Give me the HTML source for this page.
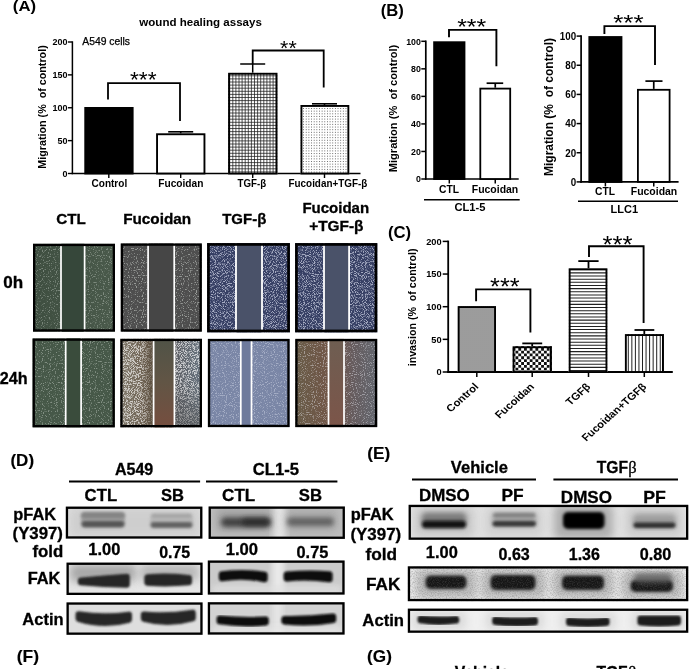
<!DOCTYPE html>
<html lang="en"><head><meta charset="utf-8"><title>Figure</title>
<style>html,body{margin:0;padding:0;background:#fff;}svg{display:block;}text{font-family:'Liberation Sans', Arial, Helvetica, sans-serif;white-space:pre;}#panelD text,#panelE text,#photos text{stroke:#000;stroke-width:0.3px;}text.pl{stroke-width:0.15px !important;}</style>
</head><body>
<svg width="694" height="669" viewBox="0 0 694 669">
<defs>
<filter id="speck" x="0" y="0" width="100%" height="100%"><feTurbulence type="fractalNoise" baseFrequency="0.85" numOctaves="1" seed="3" result="n"/><feColorMatrix in="n" type="matrix" values="0 0 0 0 0.85  0 0 0 0 0.9  0 0 0 0 0.85  7 0 0 0 -3.9"/><feGaussianBlur stdDeviation="0.35"/></filter>
<filter id="speck2" x="0" y="0" width="100%" height="100%"><feTurbulence type="fractalNoise" baseFrequency="0.9" numOctaves="1" seed="11" result="n"/><feColorMatrix in="n" type="matrix" values="0 0 0 0 0.9  0 0 0 0 0.92  0 0 0 0 1  7 0 0 0 -3.8"/><feGaussianBlur stdDeviation="0.35"/></filter>
<filter id="speck4" x="0" y="0" width="100%" height="100%"><feTurbulence type="fractalNoise" baseFrequency="1.1" numOctaves="1" seed="21" result="n"/><feColorMatrix in="n" type="matrix" values="0 0 0 0 0.85  0 0 0 0 0.88  0 0 0 0 1  6 0 0 0 -2.9"/><feGaussianBlur stdDeviation="0.3"/></filter>
<filter id="speck3" x="0" y="0" width="100%" height="100%"><feTurbulence type="fractalNoise" baseFrequency="1.3" numOctaves="1" seed="5" result="n"/><feColorMatrix in="n" type="matrix" values="0 0 0 0 1  0 0 0 0 1  0 0 0 0 1  6 0 0 0 -2.7"/><feGaussianBlur stdDeviation="0.3"/></filter>
<filter id="b05" x="-30%" y="-80%" width="160%" height="260%"><feGaussianBlur stdDeviation="0.8"/></filter>
<filter id="b1" x="-30%" y="-80%" width="160%" height="260%"><feGaussianBlur stdDeviation="1.2"/></filter>
<filter id="b15" x="-30%" y="-80%" width="160%" height="260%"><feGaussianBlur stdDeviation="1.7"/></filter>
<filter id="b2" x="-30%" y="-80%" width="160%" height="260%"><feGaussianBlur stdDeviation="2.5"/></filter>
<filter id="b3" x="-30%" y="-80%" width="160%" height="260%"><feGaussianBlur stdDeviation="4"/></filter>
<filter id="grain" x="0" y="0" width="100%" height="100%"><feTurbulence type="fractalNoise" baseFrequency="0.8" numOctaves="2" seed="7" result="n"/><feColorMatrix in="n" type="matrix" values="0 0 0 0 0.15  0 0 0 0 0.15  0 0 0 0 0.15  3 0 0 0 -1.25"/></filter>
</defs>
<rect width="694" height="669" fill="#fff"/>
<g id="panelA">
<text x="12.86" y="11.1" font-size="14.5" font-weight="bold" textLength="23.29" lengthAdjust="spacingAndGlyphs">(A)</text>
<text x="139.33" y="25.5" font-size="11.7" font-weight="bold" textLength="122.56" lengthAdjust="spacingAndGlyphs">wound healing assays</text>
<text x="82.27" y="44.8" font-size="10" textLength="47.78" lengthAdjust="spacingAndGlyphs" stroke="#000" stroke-width="0.25">A549 cells</text>
<line x1="72.4" y1="41.3" x2="72.4" y2="174.2" stroke="#000" stroke-width="1.5"/>
<line x1="71.7" y1="173.5" x2="360.5" y2="173.5" stroke="#000" stroke-width="1.5"/>
<line x1="67.9" y1="173.5" x2="72.4" y2="173.5" stroke="#000" stroke-width="1.4"/>
<text x="67.60000000000001" y="176.8" font-size="9.2" font-weight="bold" text-anchor="end" textLength="5.0" lengthAdjust="spacingAndGlyphs" fill="#000">0</text>
<line x1="67.9" y1="140.625" x2="72.4" y2="140.625" stroke="#000" stroke-width="1.4"/>
<text x="67.60000000000001" y="143.925" font-size="9.2" font-weight="bold" text-anchor="end" textLength="10.0" lengthAdjust="spacingAndGlyphs" fill="#000">50</text>
<line x1="67.9" y1="107.75" x2="72.4" y2="107.75" stroke="#000" stroke-width="1.4"/>
<text x="67.60000000000001" y="111.05" font-size="9.2" font-weight="bold" text-anchor="end" textLength="15.0" lengthAdjust="spacingAndGlyphs" fill="#000">100</text>
<line x1="67.9" y1="74.875" x2="72.4" y2="74.875" stroke="#000" stroke-width="1.4"/>
<text x="67.60000000000001" y="78.175" font-size="9.2" font-weight="bold" text-anchor="end" textLength="15.0" lengthAdjust="spacingAndGlyphs" fill="#000">150</text>
<line x1="67.9" y1="42.0" x2="72.4" y2="42.0" stroke="#000" stroke-width="1.4"/>
<text x="67.60000000000001" y="45.3" font-size="9.2" font-weight="bold" text-anchor="end" textLength="15.0" lengthAdjust="spacingAndGlyphs" fill="#000">200</text>
<text transform="translate(46.2,107) rotate(-90)" font-size="10" font-weight="bold" text-anchor="middle" textLength="123.5" lengthAdjust="spacingAndGlyphs">Migration (%  of control)</text>
<rect x="85.25" y="107.95" width="47.40" height="65.55" fill="#000" stroke="#000" stroke-width="1.9"/>
<rect x="157.05" y="134.25" width="47.40" height="39.25" fill="#fff" stroke="#000" stroke-width="1.9"/>
<rect x="228.10" y="72.80" width="49.40" height="100.70" fill="#fff"/>
<clipPath id="pb2281"><rect x="228.1" y="72.8" width="49.40" height="100.70"/></clipPath>
<g clip-path="url(#pb2281)">
<path d="M228.10 171.90H277.50M228.10 168.80H277.50M228.10 165.70H277.50M228.10 162.60H277.50M228.10 159.50H277.50M228.10 156.40H277.50M228.10 153.30H277.50M228.10 150.20H277.50M228.10 147.10H277.50M228.10 144.00H277.50M228.10 140.90H277.50M228.10 137.80H277.50M228.10 134.70H277.50M228.10 131.60H277.50M228.10 128.50H277.50M228.10 125.40H277.50M228.10 122.30H277.50M228.10 119.20H277.50M228.10 116.10H277.50M228.10 113.00H277.50M228.10 109.90H277.50M228.10 106.80H277.50M228.10 103.70H277.50M228.10 100.60H277.50M228.10 97.50H277.50M228.10 94.40H277.50M228.10 91.30H277.50M228.10 88.20H277.50M228.10 85.10H277.50M228.10 82.00H277.50M228.10 78.90H277.50M228.10 75.80H277.50M229.70 72.80V173.50M232.80 72.80V173.50M235.90 72.80V173.50M239.00 72.80V173.50M242.10 72.80V173.50M245.20 72.80V173.50M248.30 72.80V173.50M251.40 72.80V173.50M254.50 72.80V173.50M257.60 72.80V173.50M260.70 72.80V173.50M263.80 72.80V173.50M266.90 72.80V173.50M270.00 72.80V173.50M273.10 72.80V173.50M276.20 72.80V173.50" stroke="#1c1c1c" stroke-width="0.75" fill="none"/>
</g>
<rect x="229.05" y="73.75" width="47.50" height="99.75" fill="none" stroke="#000" stroke-width="1.9"/>
<rect x="300.50" y="105.00" width="48.80" height="68.50" fill="#fff"/>
<clipPath id="pb3005"><rect x="300.5" y="105" width="48.80" height="68.50"/></clipPath>
<g clip-path="url(#pb3005)">
<path d="M300.50 172.10H349.30M300.50 169.45H349.30M300.50 166.80H349.30M300.50 164.15H349.30M300.50 161.50H349.30M300.50 158.85H349.30M300.50 156.20H349.30M300.50 153.55H349.30M300.50 150.90H349.30M300.50 148.25H349.30M300.50 145.60H349.30M300.50 142.95H349.30M300.50 140.30H349.30M300.50 137.65H349.30M300.50 135.00H349.30M300.50 132.35H349.30M300.50 129.70H349.30M300.50 127.05H349.30M300.50 124.40H349.30M300.50 121.75H349.30M300.50 119.10H349.30M300.50 116.45H349.30M300.50 113.80H349.30M300.50 111.15H349.30M300.50 108.50H349.30M300.50 105.85H349.30" stroke="#3c3c3c" stroke-width="0.85" stroke-dasharray="0.85 1.80" fill="none"/>
</g>
<rect x="301.45" y="105.95" width="46.90" height="67.55" fill="none" stroke="#000" stroke-width="1.9"/>
<line x1="180.7" y1="133.3" x2="180.7" y2="131.8" stroke="#000" stroke-width="1.6"/>
<line x1="168.2" y1="131.8" x2="193.2" y2="131.8" stroke="#000" stroke-width="1.6"/>
<line x1="252.7" y1="72.7" x2="252.7" y2="64" stroke="#000" stroke-width="1.5"/>
<line x1="240.2" y1="64" x2="265.2" y2="64" stroke="#000" stroke-width="1.5"/>
<line x1="324.5" y1="105.3" x2="324.5" y2="103.8" stroke="#000" stroke-width="1.6"/>
<line x1="312.0" y1="103.8" x2="337.0" y2="103.8" stroke="#000" stroke-width="1.6"/>
<line x1="108.8" y1="173.5" x2="108.8" y2="178.0" stroke="#000" stroke-width="1.4"/>
<line x1="180.7" y1="173.5" x2="180.7" y2="178.0" stroke="#000" stroke-width="1.4"/>
<line x1="252.7" y1="173.5" x2="252.7" y2="178.0" stroke="#000" stroke-width="1.4"/>
<line x1="324.5" y1="173.5" x2="324.5" y2="178.0" stroke="#000" stroke-width="1.4"/>
<polyline points="108,99.5 108,83.2 180,83.2 180,121" fill="none" stroke="#000" stroke-width="1.8"/>
<polyline points="252.7,64 252.7,50.5 323.7,50.5 323.7,87.5" fill="none" stroke="#000" stroke-width="1.8"/>
<text x="129.95" y="87.4" font-size="21.4" textLength="26.70" lengthAdjust="spacingAndGlyphs">***</text>
<text x="280.08" y="54.7" font-size="21" textLength="16.61" lengthAdjust="spacingAndGlyphs">**</text>
<text x="91.50" y="187" font-size="10.5" font-weight="bold" textLength="35.70" lengthAdjust="spacingAndGlyphs">Control</text>
<text x="158.21" y="187" font-size="10.5" font-weight="bold" textLength="45.22" lengthAdjust="spacingAndGlyphs">Fucoidan</text>
<text x="237.58" y="187" font-size="10.5" font-weight="bold" textLength="28.54" lengthAdjust="spacingAndGlyphs">TGF-β</text>
<text x="288.53" y="187" font-size="10.5" font-weight="bold" textLength="78.80" lengthAdjust="spacingAndGlyphs">Fucoidan+TGF-β</text>
</g>
<g id="panelB">
<text x="380.67" y="16.4" font-size="16.5" font-weight="bold" textLength="23.18" lengthAdjust="spacingAndGlyphs">(B)</text>
<line x1="425.8" y1="40.5" x2="425.8" y2="179.8" stroke="#000" stroke-width="1.7"/>
<line x1="425.0" y1="179" x2="518.7" y2="179" stroke="#000" stroke-width="1.7"/>
<line x1="421.3" y1="179.0" x2="425.8" y2="179.0" stroke="#000" stroke-width="1.5"/>
<text x="420.90000000000003" y="182.456" font-size="9.6" font-weight="bold" text-anchor="end" textLength="4.9" lengthAdjust="spacingAndGlyphs" fill="#000">0</text>
<line x1="421.3" y1="151.46" x2="425.8" y2="151.46" stroke="#000" stroke-width="1.5"/>
<text x="420.90000000000003" y="154.916" font-size="9.6" font-weight="bold" text-anchor="end" textLength="9.8" lengthAdjust="spacingAndGlyphs" fill="#000">20</text>
<line x1="421.3" y1="123.92" x2="425.8" y2="123.92" stroke="#000" stroke-width="1.5"/>
<text x="420.90000000000003" y="127.376" font-size="9.6" font-weight="bold" text-anchor="end" textLength="9.8" lengthAdjust="spacingAndGlyphs" fill="#000">40</text>
<line x1="421.3" y1="96.38" x2="425.8" y2="96.38" stroke="#000" stroke-width="1.5"/>
<text x="420.90000000000003" y="99.836" font-size="9.6" font-weight="bold" text-anchor="end" textLength="9.8" lengthAdjust="spacingAndGlyphs" fill="#000">60</text>
<line x1="421.3" y1="68.84" x2="425.8" y2="68.84" stroke="#000" stroke-width="1.5"/>
<text x="420.90000000000003" y="72.296" font-size="9.6" font-weight="bold" text-anchor="end" textLength="9.8" lengthAdjust="spacingAndGlyphs" fill="#000">80</text>
<line x1="421.3" y1="41.30000000000001" x2="425.8" y2="41.30000000000001" stroke="#000" stroke-width="1.5"/>
<text x="420.90000000000003" y="44.756000000000014" font-size="9.6" font-weight="bold" text-anchor="end" textLength="14.700000000000001" lengthAdjust="spacingAndGlyphs" fill="#000">100</text>
<rect x="434.15" y="42.25" width="30.30" height="136.75" fill="#000" stroke="#000" stroke-width="1.9"/>
<rect x="480.30" y="88.60" width="29.90" height="90.40" fill="#fff" stroke="#000" stroke-width="1.8"/>
<line x1="495.25" y1="87.7" x2="495.25" y2="83.2" stroke="#000" stroke-width="1.7"/>
<line x1="486.6" y1="83.2" x2="503.2" y2="83.2" stroke="#000" stroke-width="1.7"/>
<line x1="449.29999999999995" y1="179" x2="449.29999999999995" y2="183.5" stroke="#000" stroke-width="1.5"/>
<line x1="495.25" y1="179" x2="495.25" y2="183.5" stroke="#000" stroke-width="1.5"/>
<polyline points="449,37.3 449,29.9 496.4,29.9 496.4,66.3" fill="none" stroke="#000" stroke-width="1.9"/>
<text x="457.16" y="33.9" font-size="21.5" textLength="29.07" lengthAdjust="spacingAndGlyphs">***</text>
<text x="449" y="192.5" font-size="10.3" font-weight="bold" text-anchor="middle" textLength="20" lengthAdjust="spacingAndGlyphs" fill="#000">CTL</text>
<text x="495" y="192.5" font-size="10.3" font-weight="bold" text-anchor="middle" textLength="46.5" lengthAdjust="spacingAndGlyphs" fill="#000">Fucoidan</text>
<line x1="424" y1="199.7" x2="519.7" y2="199.7" stroke="#000" stroke-width="1.6"/>
<text x="470" y="211" font-size="10.8" font-weight="bold" text-anchor="middle" textLength="31" lengthAdjust="spacingAndGlyphs" fill="#000">CL1-5</text>
<text transform="translate(397.2,108.5) rotate(-90)" font-size="11.5" font-weight="bold" text-anchor="middle" textLength="127.5" lengthAdjust="spacingAndGlyphs">Migration (%  of control)</text>
<line x1="581.1" y1="35.300000000000004" x2="581.1" y2="182.70000000000002" stroke="#000" stroke-width="1.7"/>
<line x1="580.3000000000001" y1="181.9" x2="678.6" y2="181.9" stroke="#000" stroke-width="1.7"/>
<line x1="576.6" y1="181.9" x2="581.1" y2="181.9" stroke="#000" stroke-width="1.5"/>
<text x="576.2" y="185.68" font-size="10.5" font-weight="bold" text-anchor="end" textLength="5.45" lengthAdjust="spacingAndGlyphs" fill="#000">0</text>
<line x1="576.6" y1="152.74" x2="581.1" y2="152.74" stroke="#000" stroke-width="1.5"/>
<text x="576.2" y="156.52" font-size="10.5" font-weight="bold" text-anchor="end" textLength="10.9" lengthAdjust="spacingAndGlyphs" fill="#000">20</text>
<line x1="576.6" y1="123.58000000000001" x2="581.1" y2="123.58000000000001" stroke="#000" stroke-width="1.5"/>
<text x="576.2" y="127.36000000000001" font-size="10.5" font-weight="bold" text-anchor="end" textLength="10.9" lengthAdjust="spacingAndGlyphs" fill="#000">40</text>
<line x1="576.6" y1="94.42" x2="581.1" y2="94.42" stroke="#000" stroke-width="1.5"/>
<text x="576.2" y="98.2" font-size="10.5" font-weight="bold" text-anchor="end" textLength="10.9" lengthAdjust="spacingAndGlyphs" fill="#000">60</text>
<line x1="576.6" y1="65.26" x2="581.1" y2="65.26" stroke="#000" stroke-width="1.5"/>
<text x="576.2" y="69.04" font-size="10.5" font-weight="bold" text-anchor="end" textLength="10.9" lengthAdjust="spacingAndGlyphs" fill="#000">80</text>
<line x1="576.6" y1="36.099999999999994" x2="581.1" y2="36.099999999999994" stroke="#000" stroke-width="1.5"/>
<text x="576.2" y="39.879999999999995" font-size="10.5" font-weight="bold" text-anchor="end" textLength="16.35" lengthAdjust="spacingAndGlyphs" fill="#000">100</text>
<rect x="589.35" y="37.05" width="32.10" height="144.85" fill="#000" stroke="#000" stroke-width="1.9"/>
<rect x="637.90" y="89.80" width="31.70" height="92.10" fill="#fff" stroke="#000" stroke-width="1.8"/>
<line x1="653.75" y1="88.9" x2="653.75" y2="81.1" stroke="#000" stroke-width="1.7"/>
<line x1="645.4" y1="81.1" x2="662.5" y2="81.1" stroke="#000" stroke-width="1.7"/>
<line x1="605.4" y1="181.9" x2="605.4" y2="186.4" stroke="#000" stroke-width="1.5"/>
<line x1="653.75" y1="181.9" x2="653.75" y2="186.4" stroke="#000" stroke-width="1.5"/>
<polyline points="604.4,33.9 604.4,26.1 655,26.1 655,64.9" fill="none" stroke="#000" stroke-width="1.9"/>
<text x="613.19" y="30.4" font-size="22.5" textLength="30.41" lengthAdjust="spacingAndGlyphs">***</text>
<text x="605" y="195.2" font-size="10.3" font-weight="bold" text-anchor="middle" textLength="20" lengthAdjust="spacingAndGlyphs" fill="#000">CTL</text>
<text x="654" y="195.2" font-size="10.3" font-weight="bold" text-anchor="middle" textLength="46.5" lengthAdjust="spacingAndGlyphs" fill="#000">Fucoidan</text>
<line x1="578" y1="201.3" x2="678" y2="201.3" stroke="#000" stroke-width="1.6"/>
<text x="624.3" y="213.2" font-size="10.8" font-weight="bold" text-anchor="middle" textLength="27.5" lengthAdjust="spacingAndGlyphs" fill="#000">LLC1</text>
<text transform="translate(553.2,107) rotate(-90)" font-size="12.4" font-weight="bold" text-anchor="middle" textLength="138" lengthAdjust="spacingAndGlyphs">Migration (%  of control)</text>
</g>
<g id="panelC">
<text x="387.97" y="238.4" font-size="16.5" font-weight="bold" textLength="23.18" lengthAdjust="spacingAndGlyphs">(C)</text>
<line x1="448.2" y1="240.6" x2="448.2" y2="372.9" stroke="#000" stroke-width="1.8"/>
<line x1="447.3" y1="372" x2="672.8" y2="372" stroke="#000" stroke-width="1.8"/>
<line x1="442.7" y1="372.0" x2="448.2" y2="372.0" stroke="#000" stroke-width="1.5"/>
<text x="441.59999999999997" y="375.3" font-size="9.2" font-weight="bold" text-anchor="end" textLength="5.15" lengthAdjust="spacingAndGlyphs" fill="#000">0</text>
<line x1="442.7" y1="339.35" x2="448.2" y2="339.35" stroke="#000" stroke-width="1.5"/>
<text x="441.59999999999997" y="342.65000000000003" font-size="9.2" font-weight="bold" text-anchor="end" textLength="10.3" lengthAdjust="spacingAndGlyphs" fill="#000">50</text>
<line x1="442.7" y1="306.7" x2="448.2" y2="306.7" stroke="#000" stroke-width="1.5"/>
<text x="441.59999999999997" y="310.0" font-size="9.2" font-weight="bold" text-anchor="end" textLength="15.450000000000001" lengthAdjust="spacingAndGlyphs" fill="#000">100</text>
<line x1="442.7" y1="274.05" x2="448.2" y2="274.05" stroke="#000" stroke-width="1.5"/>
<text x="441.59999999999997" y="277.35" font-size="9.2" font-weight="bold" text-anchor="end" textLength="15.450000000000001" lengthAdjust="spacingAndGlyphs" fill="#000">150</text>
<line x1="442.7" y1="241.4" x2="448.2" y2="241.4" stroke="#000" stroke-width="1.5"/>
<text x="441.59999999999997" y="244.70000000000002" font-size="9.2" font-weight="bold" text-anchor="end" textLength="15.450000000000001" lengthAdjust="spacingAndGlyphs" fill="#000">200</text>
<text transform="translate(415.9,307.3) rotate(-90)" x="-59.00" y="0" font-size="10.6" font-weight="bold" textLength="117.79" lengthAdjust="spacingAndGlyphs">invasion (%  of control)</text>
<rect x="457.70" y="306.10" width="38.30" height="65.90" fill="#fff"/>
<clipPath id="pb4577"><rect x="457.7" y="306.1" width="38.30" height="65.90"/></clipPath>
<g clip-path="url(#pb4577)">
<path d="M457.70 372.00H496.00M457.70 370.00H496.00M457.70 368.00H496.00M457.70 366.00H496.00M457.70 364.00H496.00M457.70 362.00H496.00M457.70 360.00H496.00M457.70 358.00H496.00M457.70 356.00H496.00M457.70 354.00H496.00M457.70 352.00H496.00M457.70 350.00H496.00M457.70 348.00H496.00M457.70 346.00H496.00M457.70 344.00H496.00M457.70 342.00H496.00M457.70 340.00H496.00M457.70 338.00H496.00M457.70 336.00H496.00M457.70 334.00H496.00M457.70 332.00H496.00M457.70 330.00H496.00M457.70 328.00H496.00M457.70 326.00H496.00M457.70 324.00H496.00M457.70 322.00H496.00M457.70 320.00H496.00M457.70 318.00H496.00M457.70 316.00H496.00M457.70 314.00H496.00M457.70 312.00H496.00M457.70 310.00H496.00M457.70 308.00H496.00" stroke="#222" stroke-width="1.000" stroke-dasharray="1.000 1.000" fill="none"/>
<path d="M457.70 371.00H496.00M457.70 369.00H496.00M457.70 367.00H496.00M457.70 365.00H496.00M457.70 363.00H496.00M457.70 361.00H496.00M457.70 359.00H496.00M457.70 357.00H496.00M457.70 355.00H496.00M457.70 353.00H496.00M457.70 351.00H496.00M457.70 349.00H496.00M457.70 347.00H496.00M457.70 345.00H496.00M457.70 343.00H496.00M457.70 341.00H496.00M457.70 339.00H496.00M457.70 337.00H496.00M457.70 335.00H496.00M457.70 333.00H496.00M457.70 331.00H496.00M457.70 329.00H496.00M457.70 327.00H496.00M457.70 325.00H496.00M457.70 323.00H496.00M457.70 321.00H496.00M457.70 319.00H496.00M457.70 317.00H496.00M457.70 315.00H496.00M457.70 313.00H496.00M457.70 311.00H496.00M457.70 309.00H496.00M457.70 307.00H496.00" stroke="#222" stroke-width="1.000" stroke-dasharray="1.000 1.000" stroke-dashoffset="1.000" fill="none"/>
</g>
<rect x="458.65" y="307.05" width="36.40" height="64.95" fill="none" stroke="#000" stroke-width="1.9"/>
<rect x="512.60" y="346.30" width="39.30" height="25.70" fill="#fff"/>
<clipPath id="pb5126"><rect x="512.6" y="346.3" width="39.30" height="25.70"/></clipPath>
<g clip-path="url(#pb5126)">
<path d="M512.60 372.00H551.90M512.60 366.30H551.90M512.60 360.60H551.90M512.60 354.90H551.90M512.60 349.20H551.90" stroke="#111" stroke-width="2.850" stroke-dasharray="2.850 2.850" fill="none"/>
<path d="M512.60 369.15H551.90M512.60 363.45H551.90M512.60 357.75H551.90M512.60 352.05H551.90M512.60 346.35H551.90" stroke="#111" stroke-width="2.850" stroke-dasharray="2.850 2.850" stroke-dashoffset="2.850" fill="none"/>
</g>
<rect x="513.55" y="347.25" width="37.40" height="24.75" fill="none" stroke="#000" stroke-width="1.9"/>
<rect x="568.70" y="268.30" width="38.70" height="103.70" fill="#fff"/>
<clipPath id="pb5687"><rect x="568.7" y="268.3" width="38.70" height="103.70"/></clipPath>
<g clip-path="url(#pb5687)">
<path d="M568.70 370.50H607.40M568.70 367.35H607.40M568.70 364.20H607.40M568.70 361.05H607.40M568.70 357.90H607.40M568.70 354.75H607.40M568.70 351.60H607.40M568.70 348.45H607.40M568.70 345.30H607.40M568.70 342.15H607.40M568.70 339.00H607.40M568.70 335.85H607.40M568.70 332.70H607.40M568.70 329.55H607.40M568.70 326.40H607.40M568.70 323.25H607.40M568.70 320.10H607.40M568.70 316.95H607.40M568.70 313.80H607.40M568.70 310.65H607.40M568.70 307.50H607.40M568.70 304.35H607.40M568.70 301.20H607.40M568.70 298.05H607.40M568.70 294.90H607.40M568.70 291.75H607.40M568.70 288.60H607.40M568.70 285.45H607.40M568.70 282.30H607.40M568.70 279.15H607.40M568.70 276.00H607.40M568.70 272.85H607.40M568.70 269.70H607.40" stroke="#222" stroke-width="1.05" fill="none"/>
</g>
<rect x="569.65" y="269.25" width="36.80" height="102.75" fill="none" stroke="#000" stroke-width="1.9"/>
<rect x="624.90" y="334.10" width="39.00" height="37.90" fill="#fff"/>
<clipPath id="pb6249"><rect x="624.9" y="334.1" width="39.00" height="37.90"/></clipPath>
<g clip-path="url(#pb6249)">
<path d="M628.30 334.10V372.00M631.85 334.10V372.00M635.40 334.10V372.00M638.95 334.10V372.00M642.50 334.10V372.00M646.05 334.10V372.00M649.60 334.10V372.00M653.15 334.10V372.00M656.70 334.10V372.00M660.25 334.10V372.00M663.80 334.10V372.00" stroke="#222" stroke-width="1.0" fill="none"/>
</g>
<rect x="625.85" y="335.05" width="37.10" height="36.95" fill="none" stroke="#000" stroke-width="1.9"/>
<line x1="532.2" y1="346.3" x2="532.2" y2="343.4" stroke="#000" stroke-width="1.8"/>
<line x1="522.3" y1="343.4" x2="542.2" y2="343.4" stroke="#000" stroke-width="1.8"/>
<line x1="588.5" y1="268.3" x2="588.5" y2="261.1" stroke="#000" stroke-width="1.8"/>
<line x1="578.3" y1="261.1" x2="598.6" y2="261.1" stroke="#000" stroke-width="1.8"/>
<line x1="644.3" y1="334.1" x2="644.3" y2="330" stroke="#000" stroke-width="1.8"/>
<line x1="634.5" y1="330" x2="654.3" y2="330" stroke="#000" stroke-width="1.8"/>
<line x1="476.8" y1="372" x2="476.8" y2="377" stroke="#000" stroke-width="1.5"/>
<line x1="532.2" y1="372" x2="532.2" y2="377" stroke="#000" stroke-width="1.5"/>
<line x1="588.5" y1="372" x2="588.5" y2="377" stroke="#000" stroke-width="1.5"/>
<line x1="644.3" y1="372" x2="644.3" y2="377" stroke="#000" stroke-width="1.5"/>
<polyline points="476.1,301.3 476.1,289.4 530.4,289.4 530.4,332.4" fill="none" stroke="#000" stroke-width="1.9"/>
<polyline points="589,257.1 589,246.3 643.6,246.3 643.6,322.9" fill="none" stroke="#000" stroke-width="1.9"/>
<text x="490.11" y="295.1" font-size="24" textLength="29.59" lengthAdjust="spacingAndGlyphs">***</text>
<text x="602.45" y="252.7" font-size="24" textLength="30.10" lengthAdjust="spacingAndGlyphs">***</text>
<text transform="translate(479.3,387.3) scale(1.12,1) rotate(-45)" font-size="10.1" font-weight="bold" text-anchor="end">Control</text>
<text transform="translate(535,387.3) scale(1.12,1) rotate(-45)" font-size="10.1" font-weight="bold" text-anchor="end">Fucoidan</text>
<text transform="translate(591.2,387.3) scale(1.12,1) rotate(-45)" font-size="10.1" font-weight="bold" text-anchor="end">TGFβ</text>
<text transform="translate(647.2,387.3) scale(1.12,1) rotate(-45)" font-size="10.1" font-weight="bold" text-anchor="end">Fucoidan+TGFβ</text>
</g>
<g id="photos">
<text x="56.19" y="224.1" font-size="15" font-weight="bold" textLength="29.59" lengthAdjust="spacingAndGlyphs">CTL</text>
<text x="123.17" y="224.1" font-size="15" font-weight="bold" textLength="67.98" lengthAdjust="spacingAndGlyphs">Fucoidan</text>
<text x="222.21" y="224" font-size="15" font-weight="bold" textLength="44.08" lengthAdjust="spacingAndGlyphs">TGF-β</text>
<text x="302.39" y="212.6" font-size="15" font-weight="bold" textLength="66.74" lengthAdjust="spacingAndGlyphs">Fucoidan</text>
<text x="309.15" y="230.5" font-size="15" font-weight="bold" textLength="54.35" lengthAdjust="spacingAndGlyphs">+TGF-β</text>
<text x="3.32" y="287.6" font-size="16.3" font-weight="bold" textLength="19.94" lengthAdjust="spacingAndGlyphs">0h</text>
<text x="-0.27" y="383.8" font-size="16.3" font-weight="bold" textLength="27.85" lengthAdjust="spacingAndGlyphs">24h</text>
<linearGradient id="c11" x1="0" y1="0" x2="1" y2="0"><stop offset="0" stop-color="#3e4e40"/><stop offset="1" stop-color="#4a5a4b"/></linearGradient>
<rect x="33.00" y="243.80" width="82.00" height="87.80" fill="url(#c11)"/>
<rect x="33" y="243.8" width="82.00" height="87.80" filter="url(#speck)" opacity="0.33"/>
<rect x="61.00" y="243.80" width="23.60" height="87.80" fill="#36473a"/>
<rect x="60.15" y="243.80" width="1.70" height="87.80" fill="#fff"/>
<rect x="83.75" y="243.80" width="1.70" height="87.80" fill="#fff"/>
<rect x="34.15" y="244.95" width="79.70" height="85.50" fill="none" stroke="#000" stroke-width="2.3"/>
<rect x="120.80" y="243.50" width="81.00" height="88.10" fill="#4e4e4e"/>
<rect x="120.8" y="243.5" width="81.00" height="88.10" filter="url(#speck)" opacity="0.45"/>
<rect x="148.10" y="243.50" width="26.10" height="88.10" fill="#464646"/>
<rect x="147.25" y="243.50" width="1.70" height="88.10" fill="#fff"/>
<rect x="173.35" y="243.50" width="1.70" height="88.10" fill="#fff"/>
<rect x="121.95" y="244.65" width="78.70" height="85.80" fill="none" stroke="#000" stroke-width="2.3"/>
<rect x="207.10" y="243.10" width="82.80" height="89.20" fill="#363f64"/>
<rect x="207.1" y="243.1" width="82.80" height="89.20" filter="url(#speck4)" opacity="0.6"/>
<rect x="236.00" y="243.10" width="26.00" height="89.20" fill="#4a5269"/>
<rect x="235.10" y="243.10" width="1.80" height="89.20" fill="#fff"/>
<rect x="261.10" y="243.10" width="1.80" height="89.20" fill="#fff"/>
<rect x="208.45" y="244.45" width="80.10" height="86.50" fill="none" stroke="#000" stroke-width="2.7"/>
<rect x="295.10" y="243.10" width="82.20" height="89.20" fill="#363f64"/>
<rect x="295.1" y="243.1" width="82.20" height="89.20" filter="url(#speck4)" opacity="0.6"/>
<rect x="324.00" y="243.10" width="25.10" height="89.20" fill="#4a5269"/>
<rect x="323.10" y="243.10" width="1.80" height="89.20" fill="#fff"/>
<rect x="348.20" y="243.10" width="1.80" height="89.20" fill="#fff"/>
<rect x="296.45" y="244.45" width="79.50" height="86.50" fill="none" stroke="#000" stroke-width="2.7"/>
<linearGradient id="g22" x1="0" y1="0" x2="0" y2="1"><stop offset="0" stop-color="#505347"/><stop offset="0.5" stop-color="#625545"/><stop offset="1" stop-color="#764e3f"/></linearGradient>
<linearGradient id="c22" x1="0" y1="0" x2="1" y2="0"><stop offset="0" stop-color="#7d7668"/><stop offset="0.38" stop-color="#6a5c4c"/><stop offset="0.7" stop-color="#5d6066"/><stop offset="1" stop-color="#66727e"/></linearGradient>
<linearGradient id="c24" x1="0" y1="0" x2="1" y2="0"><stop offset="0" stop-color="#685c48"/><stop offset="0.45" stop-color="#725547"/><stop offset="0.7" stop-color="#665c5e"/><stop offset="1" stop-color="#62666e"/></linearGradient>
<linearGradient id="g24" x1="0" y1="0" x2="0" y2="1"><stop offset="0" stop-color="#6e5e52"/><stop offset="1" stop-color="#7c5549"/></linearGradient>
<rect x="32.60" y="338.50" width="82.20" height="88.80" fill="#465848"/>
<rect x="32.6" y="338.5" width="82.20" height="88.80" filter="url(#speck)" opacity="0.36"/>
<rect x="65.70" y="338.50" width="15.40" height="88.80" fill="#3a4c3c"/>
<rect x="64.85" y="338.50" width="1.70" height="88.80" fill="#fff"/>
<rect x="80.25" y="338.50" width="1.70" height="88.80" fill="#fff"/>
<rect x="33.75" y="339.65" width="79.90" height="86.50" fill="none" stroke="#000" stroke-width="2.3"/>
<linearGradient id="d22" x1="0" y1="0" x2="1" y2="0"><stop offset="0" stop-color="#5a4e3e" stop-opacity="0"/><stop offset="1" stop-color="#5a4e3e" stop-opacity="0.85"/></linearGradient>
<linearGradient id="e22" x1="0" y1="0" x2="0" y2="1"><stop offset="0" stop-color="#505050" stop-opacity="0"/><stop offset="1" stop-color="#484848" stop-opacity="0.55"/></linearGradient>
<rect x="120.30" y="338.80" width="81.70" height="88.50" fill="url(#c22)"/>
<rect x="120.3" y="338.8" width="81.70" height="88.50" filter="url(#speck3)" opacity="0.66"/>
<rect x="141" y="339" width="12.6" height="88" fill="url(#d22)"/>
<rect x="175" y="380" width="27" height="47" fill="url(#e22)"/>
<rect x="153.60" y="338.80" width="20.80" height="88.50" fill="url(#g22)"/>
<rect x="152.75" y="338.80" width="1.70" height="88.50" fill="#fff"/>
<rect x="173.55" y="338.80" width="1.70" height="88.50" fill="#fff"/>
<rect x="121.45" y="339.95" width="79.40" height="86.20" fill="none" stroke="#000" stroke-width="2.3"/>
<rect x="207.90" y="338.90" width="81.70" height="88.20" fill="#7a86a6"/>
<rect x="207.9" y="338.9" width="81.70" height="88.20" filter="url(#speck2)" opacity="0.35"/>
<rect x="240.80" y="338.90" width="10.70" height="88.20" fill="#6e7a9c"/>
<rect x="239.95" y="338.90" width="1.70" height="88.20" fill="#fff"/>
<rect x="250.65" y="338.90" width="1.70" height="88.20" fill="#fff"/>
<rect x="209.05" y="340.05" width="79.40" height="85.90" fill="none" stroke="#000" stroke-width="2.3"/>
<rect x="295.30" y="338.90" width="81.90" height="88.20" fill="url(#c24)"/>
<rect x="295.3" y="338.9" width="81.90" height="88.20" filter="url(#speck2)" opacity="0.4"/>
<rect x="328.50" y="338.90" width="15.50" height="88.20" fill="url(#g24)"/>
<rect x="327.65" y="338.90" width="1.70" height="88.20" fill="#fff"/>
<rect x="343.15" y="338.90" width="1.70" height="88.20" fill="#fff"/>
<rect x="296.45" y="340.05" width="79.60" height="85.90" fill="none" stroke="#000" stroke-width="2.3"/>
</g>
<g id="panelD">
<text x="10.45" y="466.1" font-size="16.5" font-weight="bold" textLength="23.61" lengthAdjust="spacingAndGlyphs" class="pl">(D)</text>
<text x="114.90" y="474.5" font-size="16.2" font-weight="bold" textLength="38.37" lengthAdjust="spacingAndGlyphs">A549</text>
<text x="252.73" y="474.5" font-size="16.2" font-weight="bold" textLength="46.24" lengthAdjust="spacingAndGlyphs">CL1-5</text>
<line x1="69" y1="481.5" x2="200.1" y2="481.5" stroke="#000" stroke-width="2.0"/>
<line x1="206" y1="481.5" x2="337.4" y2="481.5" stroke="#000" stroke-width="2.0"/>
<text x="84.63" y="500.5" font-size="16.3" font-weight="bold" textLength="32.49" lengthAdjust="spacingAndGlyphs">CTL</text>
<text x="161.00" y="500.5" font-size="16.3" font-weight="bold" textLength="23.03" lengthAdjust="spacingAndGlyphs">SB</text>
<text x="222.12" y="500.5" font-size="16.3" font-weight="bold" textLength="33.12" lengthAdjust="spacingAndGlyphs">CTL</text>
<text x="298.80" y="500.5" font-size="16.3" font-weight="bold" textLength="23.24" lengthAdjust="spacingAndGlyphs">SB</text>
<text x="13.33" y="519.7" font-size="16.3" font-weight="bold" textLength="42.80" lengthAdjust="spacingAndGlyphs">pFAK</text>
<text x="12.56" y="539.3" font-size="16.3" font-weight="bold" textLength="50.40" lengthAdjust="spacingAndGlyphs">(Y397)</text>
<text x="32.41" y="557.1" font-size="16" font-weight="bold" textLength="30.79" lengthAdjust="spacingAndGlyphs">fold</text>
<text x="88.27" y="555.1" font-size="16" font-weight="bold" textLength="32.01" lengthAdjust="spacingAndGlyphs">1.00</text>
<text x="159.16" y="557.7" font-size="16" font-weight="bold" textLength="31.00" lengthAdjust="spacingAndGlyphs">0.75</text>
<text x="225.66" y="555.1" font-size="16" font-weight="bold" textLength="32.33" lengthAdjust="spacingAndGlyphs">1.00</text>
<text x="296.55" y="557.7" font-size="16" font-weight="bold" textLength="31.72" lengthAdjust="spacingAndGlyphs">0.75</text>
<text x="27.69" y="583.9" font-size="16.2" font-weight="bold" textLength="32.77" lengthAdjust="spacingAndGlyphs">FAK</text>
<text x="22.39" y="625.2" font-size="16.2" font-weight="bold" textLength="41.20" lengthAdjust="spacingAndGlyphs">Actin</text>
<text x="16.73" y="661.8" font-size="16.5" font-weight="bold" textLength="22.23" lengthAdjust="spacingAndGlyphs" class="pl">(F)</text>
<clipPath id="cp1"><rect x="65.8" y="506.6" width="136.60" height="32.00"/></clipPath>
<rect x="65.80" y="506.60" width="136.60" height="32.00" fill="#dedede"/>
<g clip-path="url(#cp1)">
<rect x="70" y="508" width="130.00" height="29.00" rx="5.0" fill="#c4c4c4" opacity="0.6" filter="url(#b3)"/>
<rect x="81" y="513" width="44.00" height="13.00" rx="5.0" fill="#a2a2a2" opacity="0.9" filter="url(#b15)"/>
<rect x="81" y="512" width="44.00" height="6.50" rx="3.2" fill="#808080" opacity="0.9" filter="url(#b15)"/>
<rect x="81.5" y="521" width="43.00" height="6.50" rx="3.2" fill="#4c4c4c" opacity="0.9" filter="url(#b15)"/>
<rect x="150" y="514.5" width="43.00" height="11.50" rx="5.0" fill="#b8b8b8" opacity="0.9" filter="url(#b15)"/>
<rect x="151" y="513.5" width="41.00" height="4.50" rx="2.2" fill="#a0a0a0" opacity="0.8" filter="url(#b15)"/>
<rect x="150.5" y="522" width="42.00" height="6.00" rx="3.0" fill="#565656" opacity="0.9" filter="url(#b15)"/>
</g>
<rect x="66.95" y="507.75" width="134.30" height="29.70" fill="none" stroke="#000" stroke-width="2.3"/>
<clipPath id="cp2"><rect x="208.6" y="506.5" width="136.30" height="32.40"/></clipPath>
<rect x="208.60" y="506.50" width="136.30" height="32.40" fill="#bebebe"/>
<g clip-path="url(#cp2)">
<rect x="273" y="500" width="13.00" height="45.00" rx="5.0" fill="#ececec" opacity="0.95" filter="url(#b3)"/>
<rect x="216" y="508" width="56.00" height="24.00" rx="5.0" fill="#9c9c9c" opacity="0.8" filter="url(#b3)"/>
<rect x="286" y="508" width="52.00" height="24.00" rx="5.0" fill="#a4a4a4" opacity="0.7" filter="url(#b3)"/>
<rect x="221" y="517.5" width="49.50" height="9.50" rx="4.8" fill="#3c3c3c" opacity="0.95" filter="url(#b2)"/>
<rect x="242" y="518" width="28.00" height="8.00" rx="4.0" fill="#262626" opacity="0.7" filter="url(#b2)"/>
<rect x="287" y="517.5" width="47.00" height="8.50" rx="4.2" fill="#5a5a5a" opacity="0.9" filter="url(#b2)"/>
</g>
<rect x="209.75" y="507.65" width="134.00" height="30.10" fill="none" stroke="#000" stroke-width="2.3"/>
<clipPath id="cp3"><rect x="66.5" y="562.6" width="136.10" height="32.40"/></clipPath>
<rect x="66.50" y="562.60" width="136.10" height="32.40" fill="#e6e6e6"/>
<g clip-path="url(#cp3)">
<rect x="70" y="564" width="66.00" height="18.00" rx="5.0" fill="#999" opacity="0.8" filter="url(#b3)"/>
<rect x="140" y="564" width="59.00" height="17.00" rx="5.0" fill="#a4a4a4" opacity="0.7" filter="url(#b3)"/>
<path d="M81.0 580.7Q103.80000000000001 578.5500000000001 126.60000000000001 577.0L126.60000000000001 584.5999999999999Q103.80000000000001 584.25 81.0 582.0999999999999Z" fill="#262626" stroke="#262626" stroke-width="6.4" stroke-linejoin="round" opacity="1" filter="url(#b1)"/>
<path d="M147.5 577.4000000000001Q168.15 575.8000000000001 188.8 578.2L188.8 582.0999999999999Q168.15 584.05 147.5 582.5999999999999Z" fill="#262626" stroke="#262626" stroke-width="6.4" stroke-linejoin="round" opacity="1" filter="url(#b1)"/>
</g>
<rect x="67.65" y="563.75" width="133.80" height="30.10" fill="none" stroke="#000" stroke-width="2.3"/>
<clipPath id="cp4"><rect x="207.8" y="560.5" width="136.80" height="34.10"/></clipPath>
<rect x="207.80" y="560.50" width="136.80" height="34.10" fill="#cbcbcb"/>
<g clip-path="url(#cp4)">
<rect x="272" y="555" width="12.00" height="45.00" rx="5.0" fill="#ececec" opacity="0.9" filter="url(#b2)"/>
<rect x="212" y="585" width="130.00" height="9.00" rx="4.5" fill="#e0e0e0" opacity="0.7" filter="url(#b2)"/>
<path d="M222.0 574.4000000000001Q243.20000000000002 571.8 264.40000000000003 574.8000000000001L264.40000000000003 579.0999999999999Q243.20000000000002 574.4000000000001 222.0 578.0999999999999Z" fill="#0a0a0a" stroke="#0a0a0a" stroke-width="6.4" stroke-linejoin="round" opacity="1" filter="url(#b1)"/>
<path d="M286.8 574.8000000000001Q308.1 573.0 329.40000000000003 574.4000000000001L329.40000000000003 579.0999999999999Q308.1 575.95 286.8 578.1999999999999Z" fill="#0a0a0a" stroke="#0a0a0a" stroke-width="6.4" stroke-linejoin="round" opacity="1" filter="url(#b1)"/>
</g>
<rect x="208.95" y="561.65" width="134.50" height="31.80" fill="none" stroke="#000" stroke-width="2.3"/>
<clipPath id="cp5"><rect x="66.5" y="602.4" width="136.10" height="32.40"/></clipPath>
<rect x="66.50" y="602.40" width="136.10" height="32.40" fill="#dedede"/>
<g clip-path="url(#cp5)">
<path d="M78.7 614.4000000000001Q103.75 618.2 128.8 614.8000000000001L128.8 619.5999999999999Q103.75 626.5 78.7 618.5999999999999Z" fill="#282828" stroke="#282828" stroke-width="6.4" stroke-linejoin="round" opacity="1" filter="url(#b1)"/>
<path d="M144.0 614.8000000000001Q168.3 616.6 192.60000000000002 612.8000000000001L192.60000000000002 618.1999999999999Q168.3 625.2 144.0 618.5999999999999Z" fill="#282828" stroke="#282828" stroke-width="6.4" stroke-linejoin="round" opacity="1" filter="url(#b1)"/>
</g>
<rect x="67.65" y="603.55" width="133.80" height="30.10" fill="none" stroke="#000" stroke-width="2.3"/>
<clipPath id="cp6"><rect x="207.8" y="602.2" width="136.80" height="32.40"/></clipPath>
<rect x="207.80" y="602.20" width="136.80" height="32.40" fill="#d2d2d2"/>
<g clip-path="url(#cp6)">
<rect x="272" y="597" width="11.00" height="43.00" rx="5.0" fill="#e8e8e8" opacity="0.8" filter="url(#b2)"/>
<rect x="212" y="626" width="130.00" height="8.00" rx="4.0" fill="#e6e6e6" opacity="0.7" filter="url(#b2)"/>
<path d="M219.79999999999998 618.8000000000001Q242.7 621.1 265.6 619.8000000000001L265.6 622.1999999999999Q242.7 624.6999999999999 219.79999999999998 621.1999999999999Z" fill="#0a0a0a" stroke="#0a0a0a" stroke-width="6.4" stroke-linejoin="round" opacity="1" filter="url(#b1)"/>
<path d="M284.59999999999997 619.2Q308.79999999999995 619.6000000000001 333.0 616.8000000000001L333.0 619.8Q308.79999999999995 623.8999999999999 284.59999999999997 621.1999999999999Z" fill="#0a0a0a" stroke="#0a0a0a" stroke-width="6.4" stroke-linejoin="round" opacity="1" filter="url(#b1)"/>
</g>
<rect x="208.95" y="603.35" width="134.50" height="30.10" fill="none" stroke="#000" stroke-width="2.3"/>
</g>
<g id="panelE">
<text x="367.24" y="458.7" font-size="16.5" font-weight="bold" textLength="22.93" lengthAdjust="spacingAndGlyphs" class="pl">(E)</text>
<text x="450.88" y="473.3" font-size="16.3" font-weight="bold" textLength="56.99" lengthAdjust="spacingAndGlyphs">Vehicle</text>
<text x="596.80" y="473.3" font-size="16.3" font-weight="bold" textLength="31.28" lengthAdjust="spacingAndGlyphs">TGF</text>
<text x="628.3" y="473.3" font-size="16.5" style="font-family:'Liberation Serif','DejaVu Serif',serif">β</text>
<line x1="412" y1="479.6" x2="536" y2="479.6" stroke="#000" stroke-width="2.0"/>
<line x1="553.4" y1="479.6" x2="678" y2="479.6" stroke="#000" stroke-width="2.0"/>
<text x="418.96" y="501" font-size="16.4" font-weight="bold" textLength="50.76" lengthAdjust="spacingAndGlyphs">DMSO</text>
<text x="501.43" y="501" font-size="16.4" font-weight="bold" textLength="22.19" lengthAdjust="spacingAndGlyphs">PF</text>
<text x="560.85" y="502.5" font-size="16.4" font-weight="bold" textLength="51.18" lengthAdjust="spacingAndGlyphs">DMSO</text>
<text x="643.21" y="502.5" font-size="16.4" font-weight="bold" textLength="22.62" lengthAdjust="spacingAndGlyphs">PF</text>
<text x="350.83" y="519.8" font-size="16.3" font-weight="bold" textLength="42.91" lengthAdjust="spacingAndGlyphs">pFAK</text>
<text x="350.46" y="539.9" font-size="16.3" font-weight="bold" textLength="50.72" lengthAdjust="spacingAndGlyphs">(Y397)</text>
<text x="365.40" y="560.2" font-size="16" font-weight="bold" textLength="31.63" lengthAdjust="spacingAndGlyphs">fold</text>
<text x="425.88" y="557.9" font-size="16" font-weight="bold" textLength="31.90" lengthAdjust="spacingAndGlyphs">1.00</text>
<text x="498.56" y="560.1" font-size="16" font-weight="bold" textLength="31.23" lengthAdjust="spacingAndGlyphs">0.63</text>
<text x="568.80" y="560.1" font-size="16" font-weight="bold" textLength="31.08" lengthAdjust="spacingAndGlyphs">1.36</text>
<text x="639.65" y="560.1" font-size="16" font-weight="bold" textLength="31.52" lengthAdjust="spacingAndGlyphs">0.80</text>
<text x="366.04" y="590" font-size="16.4" font-weight="bold" textLength="34.33" lengthAdjust="spacingAndGlyphs">FAK</text>
<text x="362.38" y="625.5" font-size="16.4" font-weight="bold" textLength="41.62" lengthAdjust="spacingAndGlyphs">Actin</text>
<text x="367.14" y="661.8" font-size="16.5" font-weight="bold" textLength="24.74" lengthAdjust="spacingAndGlyphs" class="pl">(G)</text>
<text x="454.78" y="677.5" font-size="16.3" font-weight="bold" textLength="54.16" lengthAdjust="spacingAndGlyphs">Vehicle</text>
<text x="596.40" y="677.5" font-size="16.3" font-weight="bold" textLength="31.28" lengthAdjust="spacingAndGlyphs">TGF</text>
<text x="628" y="677.5" font-size="16.5" style="font-family:'Liberation Serif','DejaVu Serif',serif">β</text>
<clipPath id="cp7"><rect x="408.6" y="504.8" width="279.70" height="35.00"/></clipPath>
<rect x="408.60" y="504.80" width="279.70" height="35.00" fill="#e2e2e2"/>
<g clip-path="url(#cp7)">
<rect x="414" y="507" width="60.00" height="30.00" rx="5.0" fill="#bcbcbc" opacity="0.65" filter="url(#b3)"/>
<rect x="485" y="507" width="58.00" height="30.00" rx="5.0" fill="#c4c4c4" opacity="0.55" filter="url(#b3)"/>
<rect x="554" y="505" width="59.00" height="34.00" rx="5.0" fill="#a0a0a0" opacity="0.8" filter="url(#b3)"/>
<rect x="626" y="507" width="56.00" height="30.00" rx="5.0" fill="#bcbcbc" opacity="0.6" filter="url(#b3)"/>
<rect x="421.5" y="512.5" width="45.00" height="15.50" rx="5.0" fill="#787878" opacity="0.95" filter="url(#b2)"/>
<rect x="422" y="520.8" width="44.00" height="7.20" rx="3.6" fill="#0e0e0e" opacity="0.95" filter="url(#b15)"/>
<rect x="492" y="512.5" width="44.50" height="14.00" rx="5.0" fill="#a4a4a4" opacity="0.85" filter="url(#b2)"/>
<rect x="493" y="513" width="42.50" height="4.50" rx="2.2" fill="#767676" opacity="0.8" filter="url(#b15)"/>
<rect x="492.5" y="521" width="43.50" height="5.40" rx="2.7" fill="#2e2e2e" opacity="0.95" filter="url(#b15)"/>
<rect x="563" y="512" width="41.50" height="17.00" rx="5.0" fill="#060606" opacity="1" filter="url(#b15)"/>
<rect x="633" y="514" width="43.00" height="13.50" rx="5.0" fill="#9a9a9a" opacity="0.9" filter="url(#b2)"/>
<rect x="633.5" y="522.5" width="42.00" height="5.50" rx="2.8" fill="#282828" opacity="0.95" filter="url(#b15)"/>
</g>
<rect x="409.75" y="505.95" width="277.40" height="32.70" fill="none" stroke="#000" stroke-width="2.3"/>
<clipPath id="cp8"><rect x="407.8" y="566.3" width="280.50" height="34.90"/></clipPath>
<rect x="407.80" y="566.30" width="280.50" height="34.90" fill="#ececec"/>
<g clip-path="url(#cp8)">
<rect x="416" y="569" width="60.00" height="29.00" rx="5.0" fill="#999" opacity="0.6" filter="url(#b3)"/>
<rect x="482" y="569" width="63.00" height="29.00" rx="5.0" fill="#999" opacity="0.6" filter="url(#b3)"/>
<rect x="553" y="569" width="60.00" height="29.00" rx="5.0" fill="#999" opacity="0.6" filter="url(#b3)"/>
<rect x="622" y="571" width="60.00" height="28.00" rx="5.0" fill="#999" opacity="0.6" filter="url(#b3)"/>
<rect x="425.5" y="575.5" width="41.00" height="13.50" rx="5.0" fill="#161616" opacity="1" filter="url(#b15)"/>
<rect x="490.5" y="575" width="45.00" height="15.00" rx="5.0" fill="#161616" opacity="1" filter="url(#b15)"/>
<rect x="562" y="575.5" width="42.00" height="14.50" rx="5.0" fill="#161616" opacity="1" filter="url(#b15)"/>
<rect x="630.5" y="580" width="42.50" height="12.00" rx="5.0" fill="#161616" opacity="1" filter="url(#b15)"/>
<rect x="634" y="573" width="38.00" height="11.00" rx="5.0" fill="#555" opacity="0.75" filter="url(#b2)"/>
<rect x="407.8" y="566.3" width="280.50" height="34.90" filter="url(#grain)" opacity="0.3"/>
</g>
<rect x="408.95" y="567.45" width="278.20" height="32.60" fill="none" stroke="#000" stroke-width="2.3"/>
<clipPath id="cp9"><rect x="407.8" y="608.6" width="280.50" height="24.20"/></clipPath>
<rect x="407.80" y="608.60" width="280.50" height="24.20" fill="#f0f0f0"/>
<g clip-path="url(#cp9)">
<rect x="412" y="611" width="54.00" height="19.00" rx="5.0" fill="#ccc" opacity="0.6" filter="url(#b3)"/>
<rect x="486" y="611" width="58.00" height="19.00" rx="5.0" fill="#ccc" opacity="0.6" filter="url(#b3)"/>
<rect x="560" y="612" width="56.00" height="18.00" rx="5.0" fill="#ccc" opacity="0.6" filter="url(#b3)"/>
<rect x="632" y="611" width="54.00" height="19.00" rx="5.0" fill="#ccc" opacity="0.6" filter="url(#b3)"/>
<path d="M420.8 618.8000000000001Q438.4 620.6000000000001 456.0 619.2L456.0 620.4Q438.4 623.3 420.8 620.1999999999999Z" fill="#1e1e1e" stroke="#1e1e1e" stroke-width="6.4" stroke-linejoin="round" opacity="1" filter="url(#b1)"/>
<path d="M495.4 619.8000000000001Q515.1 621.6000000000001 534.8 620.2L534.8 622.1999999999999Q515.1 624.3999999999999 495.4 621.8Z" fill="#1e1e1e" stroke="#1e1e1e" stroke-width="6.4" stroke-linejoin="round" opacity="1" filter="url(#b1)"/>
<path d="M569.2 620.8000000000001Q587.8 622.8000000000001 606.4 620.8000000000001L606.4 622.8Q587.8 624.8 569.2 622.8Z" fill="#1e1e1e" stroke="#1e1e1e" stroke-width="6.4" stroke-linejoin="round" opacity="1" filter="url(#b1)"/>
<path d="M640.6 618.8000000000001Q659.2 618.8000000000001 677.8 618.8000000000001L677.8 622.1999999999999Q659.2 624.1999999999999 640.6 622.1999999999999Z" fill="#1e1e1e" stroke="#1e1e1e" stroke-width="6.4" stroke-linejoin="round" opacity="1" filter="url(#b1)"/>
</g>
<rect x="408.95" y="609.75" width="278.20" height="21.90" fill="none" stroke="#000" stroke-width="2.3"/>
</g>
</svg>
</body></html>
